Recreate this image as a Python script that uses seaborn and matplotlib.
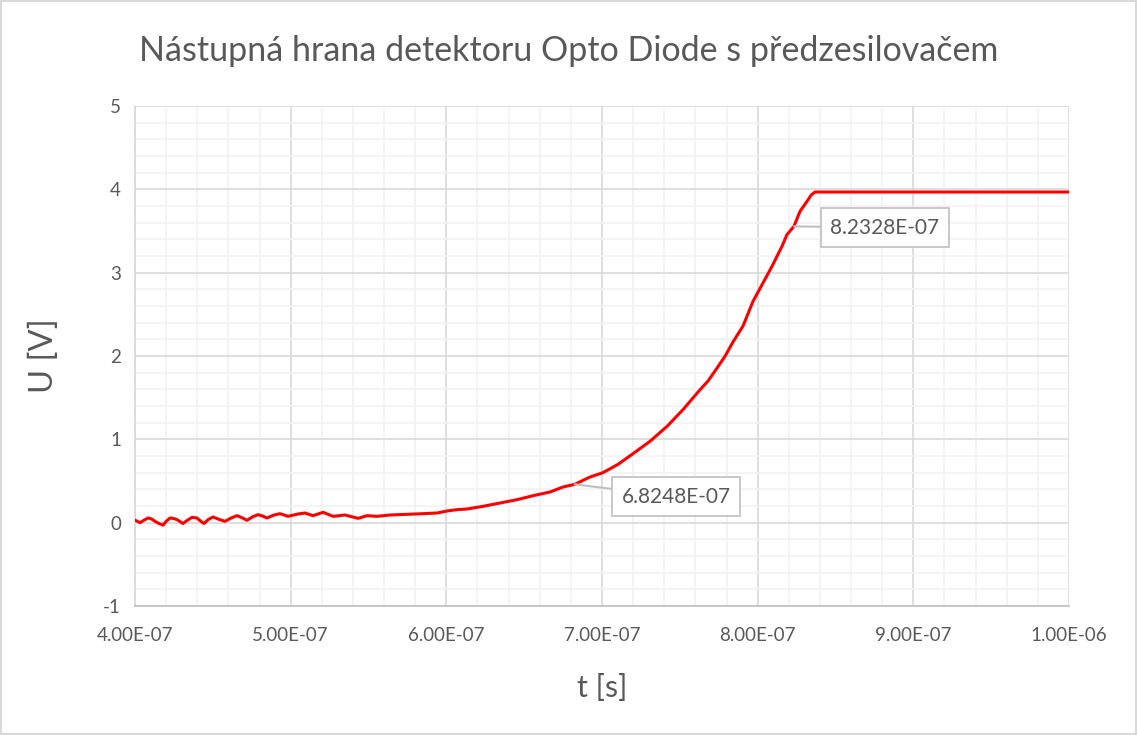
import numpy as np
import pandas as pd
import matplotlib
matplotlib.use("Agg")
import matplotlib.pyplot as plt
from matplotlib.ticker import MultipleLocator, FuncFormatter
import seaborn as sns

# ---- data ----
t_ns = [400.0, 403.2, 405.8, 408.4, 410.6, 412.8, 415.4, 418.0, 420.2, 422.5,
        424.8, 427.0, 430.8, 433.7, 436.6, 439.8, 442.0, 444.3, 447.2, 450.1,
        453.9, 457.8, 461.6, 465.5, 468.7, 471.9, 475.5, 479.0, 481.9, 484.8,
        489.0, 493.1, 498.3, 504.7, 509.2, 514.3, 520.8, 527.2, 534.9, 543.3,
        549.0, 555.5, 563.8, 574.7, 585.0, 594.0, 600.4, 606.8, 613.3, 623.5,
        634.5, 645.4, 655.7, 666.6, 674.9, 682.5, 692.3, 700.6, 710.3, 719.9,
        730.8, 741.8, 752.0, 763.0, 768.1, 773.9, 779.0, 784.2, 790.6, 797.0,
        803.4, 809.2, 815.6, 818.8, 823.3, 827.2, 831.7, 834.3, 836.8, 850.0,
        900.0, 950.0, 1000.0]
u_volts = [0.03, 0.00, 0.030, 0.056, 0.045, 0.016, -0.010, -0.030, 0.020, 0.056,
           0.050, 0.036, -0.010, 0.030, 0.064, 0.056, 0.020, -0.010, 0.040, 0.068,
           0.040, 0.016, 0.055, 0.084, 0.060, 0.028, 0.070, 0.096, 0.080, 0.056,
           0.090, 0.108, 0.076, 0.104, 0.116, 0.084, 0.124, 0.076, 0.092, 0.052,
           0.084, 0.076, 0.092, 0.100, 0.108, 0.116, 0.140, 0.156, 0.164, 0.196,
           0.236, 0.276, 0.324, 0.368, 0.428, 0.460, 0.548, 0.600, 0.700, 0.828,
           0.976, 1.156, 1.356, 1.596, 1.700, 1.856, 1.996, 2.170, 2.360, 2.656,
           2.876, 3.076, 3.316, 3.456, 3.556, 3.736, 3.856, 3.930, 3.968, 3.968,
           3.968, 3.968, 3.968]
label_times = [6.8248e-07, 8.2328e-07]
label_text_pos = [(7.475e-07, 0.31), (8.818e-07, 3.54)]

title = "Nástupná hrana detektoru Opto Diode s předzesilovačem"
xlabel = "t [s]"
ylabel = "U [V]"

t_s = np.array(t_ns) * 1e-9
df = pd.DataFrame({"t": t_s, "U": u_volts})

sns.set_style("white")
plt.rcParams["font.family"] = ["Lato", "DejaVu Sans"]

fig = plt.figure(figsize=(11.37, 7.35), dpi=100)
fig.patch.set_facecolor("white")
fig.patch.set_edgecolor("#d9d9d9")
fig.patch.set_linewidth(1.5)
ax = fig.add_axes([135/1137, 1-606/735, (1069-135)/1137, (606-106)/735])

sns.lineplot(data=df, x="t", y="U", color="#ff0000", linewidth=2.2,
             estimator=None, sort=False, ax=ax, zorder=5)

ax.set_xlim(4e-7, 1e-6)
ax.set_ylim(-1, 5)
ax.xaxis.set_major_locator(MultipleLocator(1e-7))
ax.xaxis.set_minor_locator(MultipleLocator(2e-8))
ax.yaxis.set_major_locator(MultipleLocator(1))
ax.yaxis.set_minor_locator(MultipleLocator(0.2))
ax.xaxis.set_major_formatter(FuncFormatter(lambda v, p: f"{v:.2E}"))
ax.yaxis.set_major_formatter(FuncFormatter(lambda v, p: f"{v:.0f}"))

ax.grid(which="minor", color="#f2f2f2", linewidth=1.2, zorder=0)
ax.grid(which="major", color="#d9d9d9", linewidth=1.2, zorder=1)
ax.set_axisbelow(True)
for s in ["top", "right"]:
    ax.spines[s].set_visible(False)
ax.spines["left"].set_color("#d9d9d9")
ax.spines["bottom"].set_color("#bfbfbf")
ax.spines["left"].set_linewidth(1.2)
ax.spines["bottom"].set_linewidth(1.2)
ax.tick_params(which="both", length=0, colors="#595959", labelsize=13.5)
ax.tick_params(axis="x", pad=15)
ax.tick_params(axis="y", pad=10)

ax.set_xlabel(xlabel, fontsize=22, color="#595959", labelpad=22)
ax.set_ylabel(ylabel, fontsize=23.5, color="#595959", labelpad=32)
fig.text(0.5, 1 - 51/735, title, ha="center", va="center",
         fontsize=24.5, color="#595959")

for lt, (tx, ty) in zip(label_times, label_text_pos):
    uy = np.interp(lt, t_s, u_volts)
    ax.annotate(f"{lt:.4E}", xy=(lt, uy), xytext=(tx, ty), ha="center", va="center",
                fontsize=15, color="#595959", zorder=10,
                bbox=dict(boxstyle="square,pad=0.45", fc="white", ec="#bfbfbf", lw=1.2),
                arrowprops=dict(arrowstyle="-", color="#bfbfbf", lw=1.5,
                                shrinkA=0, shrinkB=0))

fig.savefig("out.png", dpi=100, facecolor=fig.get_facecolor(), edgecolor=fig.get_edgecolor())
